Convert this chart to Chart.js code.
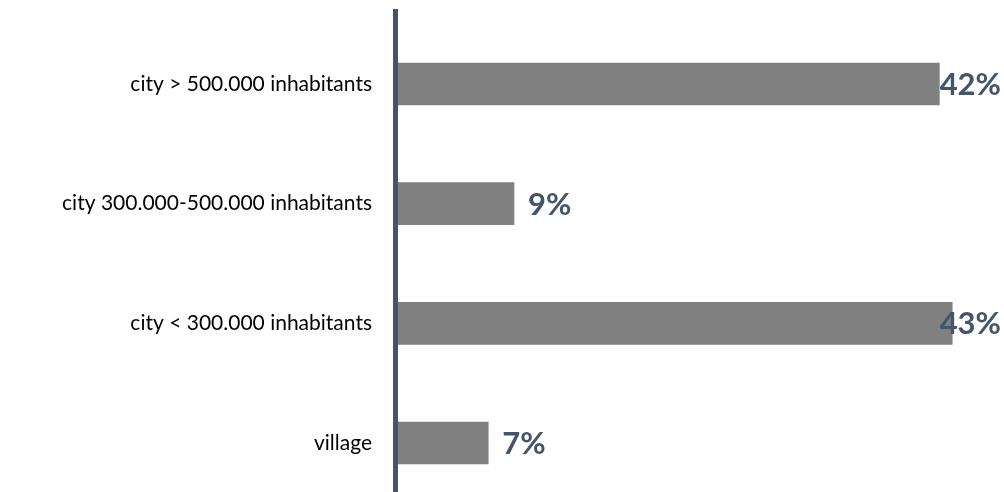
<!DOCTYPE html>
<html>
<head>
<meta charset="utf-8">
<script src="https://cdn.jsdelivr.net/npm/chart.js@4"></script>
<style>
  html, body { margin: 0; padding: 0; background: #fff; overflow: hidden; }
  #wrap { width: 1004px; height: 492px; }
</style>
</head>
<body>
<div id="wrap"><canvas id="chart"></canvas></div>
<script>
const CATEGORIES = [
  'city > 500.000 inhabitants',
  'city 300.000-500.000 inhabitants',
  'city < 300.000 inhabitants',
  'village'
]
const SHARES = [42, 9, 43, 7] // %

const AXIS_COLOR = '#44546A'
const BAR_COLOR = '#808080'

// vertical line at zero, running from near the top to the bottom edge
const axisLine = {
  id: 'axisLine',
  afterDatasetsDraw: (chart) => {
    const ctx = chart.ctx
    const x0 = chart.scales.x.getPixelForValue(0)
    ctx.save()
    ctx.fillStyle = AXIS_COLOR
    ctx.fillRect(x0 - 5, 9, 5, chart.height - 9)
    ctx.restore()
  }
}

// value labels past the bar end, pushed back inside when they hit the edge
const valueLabels = {
  id: 'valueLabels',
  afterDatasetsDraw: (chart) => {
    const ctx = chart.ctx
    const meta = chart.getDatasetMeta(0)
    ctx.save()
    ctx.font = 'bold 31px Lato'
    ctx.fillStyle = AXIS_COLOR
    ctx.textBaseline = 'middle'
    ctx.textAlign = 'left'
    meta.data.forEach((bar, i) => {
      const text = SHARES[i] + '%'
      const w = ctx.measureText(text).width
      const x = Math.min(bar.x + 14, chart.width - w - 3)
      ctx.fillText(text, x, bar.y + 1)
    })
    ctx.restore()
  }
}

new Chart(document.getElementById('chart'), {
  type: 'bar',
  data: {
    labels: CATEGORIES,
    datasets: [{
      data: SHARES,
      backgroundColor: BAR_COLOR,
      barThickness: 42,
      clip: false
    }]
  },
  options: {
    indexAxis: 'y',
    responsive: true,
    maintainAspectRatio: false,
    animation: false,
    layout: { padding: { top: 84, bottom: 49, left: 0, right: 26 } },
    plugins: {
      legend: { display: false },
      tooltip: { enabled: false }
    },
    scales: {
      x: {
        display: false,
        min: 0,
        max: 45
      },
      y: {
        offset: false,
        grid: { display: false, drawTicks: false },
        border: { display: false },
        ticks: {
          padding: 26,
          color: '#000',
          font: { family: 'Lato', size: 21 }
        },
        afterFit: (scale) => { scale.width = 398 }
      }
    }
  },
  plugins: [axisLine, valueLabels]
})
</script>
</body>
</html>
